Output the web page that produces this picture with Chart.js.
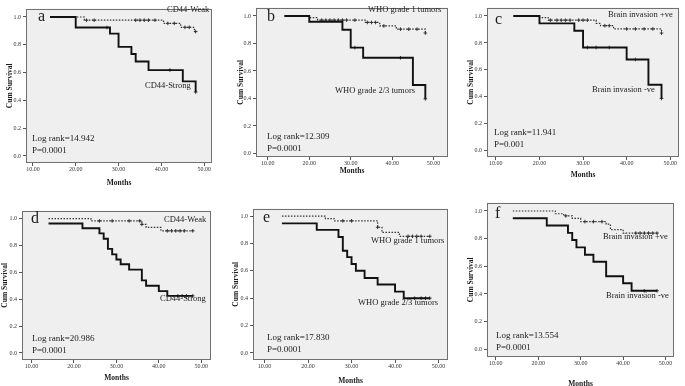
<!DOCTYPE html>
<html>
<head>
<meta charset="utf-8">
<script src="https://cdn.jsdelivr.net/npm/chart.js@4"></script>
<style>
  body { margin: 0; background: #fff; }
  #wrap { position: relative; width: 685px; height: 386px; overflow: hidden; background: #fff; }
  #wrap canvas { position: absolute; }
</style>
</head>
<body>
<div id="wrap"></div>
<script>
// axis ticks
const monthTicks = [10, 20, 30, 40, 50];
const survTicks = [0, 0.2, 0.4, 0.6, 0.8, 1.0];

// text per panel
const panelLetters = ['a', 'b', 'c', 'd', 'e', 'f'];
const solidNames = ['CD44-Strong', 'WHO grade 2/3 tumors', 'Brain invasion -ve', 'CD44-Strong', 'WHO grade 2/3 tumors', 'Brain invasion -ve'];
const dottedNames = ['CD44-Weak', 'WHO grade 1 tumors', 'Brain invasion +ve', 'CD44-Weak', 'WHO grade 1 tumors', 'Brain invasion +ve'];
const logRanks = ['14.942', '12.309', '11.941', '20.986', '17.830', '13.554'];
const pValues = ['0.0001', '0.0001', '0.001', '0.0001', '0.0001', '0.0001'];

// curves: [month, cumulative survival] at each step, censored cases separately
const aSolid = [[14, 1], [20, 0.924], [28, 0.88], [30, 0.785], [33, 0.734], [34, 0.68], [37, 0.618], [45, 0.537], [48, 0.46]];
const aSolidCens = [[27.3, 0.924], [42, 0.618], [48, 0.46]];
const aDotted = [[14, 1], [22, 0.977], [40.5, 0.954], [44.5, 0.926], [47.7, 0.895], [48, 0.895]];
const aDottedCens = [[22.5, 0.977], [24.3, 0.977], [34, 0.977], [35, 0.977], [36, 0.977], [37, 0.977], [38.5, 0.977], [41.5, 0.954], [43, 0.954], [45.5, 0.926], [46.5, 0.926], [48, 0.895]];

const bSolid = [[14, 1], [20, 0.958], [28, 0.9], [30, 0.77], [33, 0.696], [45, 0.498], [48, 0.397]];
const bSolidCens = [[31, 0.77], [42, 0.696], [48, 0.397]];
const bDotted = [[14, 1], [20, 0.988], [22, 0.97], [33.5, 0.953], [37, 0.928], [41, 0.904], [48, 0.876]];
const bDottedCens = [[23, 0.97], [24, 0.97], [25, 0.97], [26, 0.97], [27, 0.97], [28, 0.97], [29, 0.97], [31, 0.97], [34, 0.953], [35, 0.953], [36, 0.953], [38, 0.928], [42, 0.904], [44, 0.904], [46, 0.904], [48, 0.876]];

const cSolid = [[14, 1], [20, 0.945], [28, 0.89], [30, 0.766], [40, 0.677], [45, 0.49], [48, 0.388]];
const cSolidCens = [[31, 0.766], [33, 0.766], [36, 0.766], [42, 0.677], [48, 0.388]];
const cDotted = [[14, 1], [20, 0.988], [22, 0.969], [33, 0.945], [34, 0.928], [37, 0.904], [48, 0.873]];
const cDottedCens = [[22.5, 0.969], [24, 0.969], [25, 0.969], [26, 0.969], [27, 0.969], [29, 0.969], [30, 0.969], [31, 0.969], [35, 0.928], [36, 0.928], [40, 0.904], [42, 0.904], [44, 0.904], [46, 0.904], [48, 0.873]];

const dSolid = [[14, 0.964], [22, 0.928], [26, 0.89], [27, 0.85], [28, 0.775], [29, 0.734], [30, 0.696], [31, 0.66], [33, 0.62], [36, 0.54], [37, 0.5], [40, 0.46], [42, 0.425], [48, 0.425]];
const dSolidCens = [[44.5, 0.425], [45.5, 0.425], [46.5, 0.425], [48, 0.425]];
const dDotted = [[14, 1], [24, 0.983], [36, 0.957], [37, 0.935], [40.5, 0.909], [48, 0.909]];
const dDottedCens = [[26, 0.983], [29, 0.983], [33, 0.983], [35.5, 0.983], [36, 0.957], [42, 0.909], [43, 0.909], [44, 0.909], [45, 0.909], [46, 0.909], [48, 0.909]];

const eSolid = [[14, 0.946], [22, 0.899], [27, 0.847], [28, 0.746], [29, 0.7], [30, 0.65], [31, 0.6], [33, 0.547], [36, 0.5], [40, 0.448], [42, 0.4], [48, 0.4]];
const eSolidCens = [[44.5, 0.4], [46, 0.4], [47, 0.4], [48, 0.4]];
const eDotted = [[14, 1], [24, 0.981], [26, 0.965], [36, 0.918], [37, 0.88], [41, 0.852], [48, 0.852]];
const eDottedCens = [[28, 0.965], [30, 0.965], [36, 0.918], [43, 0.852], [44, 0.852], [45, 0.852], [46, 0.852], [48, 0.852]];

const fSolid = [[14, 0.947], [22, 0.895], [27, 0.842], [28, 0.79], [29, 0.737], [31, 0.684], [33, 0.633], [36, 0.528], [40, 0.477], [42, 0.423], [48, 0.423]];
const fSolidCens = [[45, 0.423], [48, 0.423]];
const fDotted = [[14, 1], [24, 0.98], [26, 0.965], [28, 0.947], [30, 0.923], [36, 0.905], [37, 0.865], [40, 0.84], [48, 0.84]];
const fDottedCens = [[26.5, 0.965], [31, 0.923], [33, 0.923], [35, 0.923], [43, 0.84], [44, 0.84], [45, 0.84], [46, 0.84], [47, 0.84], [48, 0.84]];

const curves = [
  [aSolid, aSolidCens, aDotted, aDottedCens],
  [bSolid, bSolidCens, bDotted, bDottedCens],
  [cSolid, cSolidCens, cDotted, cDottedCens],
  [dSolid, dSolidCens, dDotted, dDottedCens],
  [eSolid, eSolidCens, eDotted, eDottedCens],
  [fSolid, fSolidCens, fDotted, fDottedCens]
];

// page layout of each panel (pixels)
const layout = [
  { frame: [26, 3, 215, 163], x10: 33, x50: 207, y1: 11.7, y0: 155.7, left: 0, bottom: 190, ytp: 5.5, xpb: 2.5,
    letter: [38, 17], dotted: [167, 10], solid: [145, 86], stats: [32, 139] },
  { frame: [256, 2, 451, 157], x10: 268, x50: 436.3, y1: 10.7, y0: 153.3, left: 232, bottom: 180, ytp: 4.5, xpb: 4.5,
    letter: [267, 17], dotted: [368, 10], solid: [335, 91], stats: [267, 137] },
  { frame: [487, 2, 682, 157], x10: 496, x50: 673, y1: 10.7, y0: 150.5, left: 458, bottom: 184, ytp: 8.2, xpb: 4.5,
    letter: [495, 20], dotted: [608, 15], solid: [592, 90], stats: [494, 133] },
  { frame: [22, 205, 214, 360], x10: 31.7, x50: 204, y1: 213.3, y0: 352.7, left: 0, bottom: 386, ytp: 0.5, xpb: 3.5,
    letter: [31, 219], dotted: [164, 220], solid: [160, 299], stats: [32, 339] },
  { frame: [253, 203, 451, 360], x10: 264.7, x50: 441.3, y1: 210.7, y0: 352.7, left: 230, bottom: 390, ytp: 1.8, xpb: 4.5,
    letter: [263, 218], dotted: [371, 241], solid: [358, 303], stats: [267, 338] },
  { frame: [487, 197, 677, 357], x10: 496, x50: 668.3, y1: 205.7, y0: 349, left: 458, bottom: 392, ytp: 8.2, xpb: 3.5,
    letter: [495, 214], dotted: [603, 237], solid: [606, 296], stats: [496, 336] }
];

const serif = '"Liberation Serif", "Times New Roman", serif';
const toXY = pts => pts.map(([x, y]) => ({ x, y }));

function makePanel(i) {
  const p = layout[i];
  const [fx0, fy0, fx1, fy1] = p.frame;
  const w = fx1 - p.left + 2;
  const h = p.bottom - fy0;
  const padL = fx0 - p.left;
  const padB = p.bottom - fy1;

  const canvas = document.createElement('canvas');
  canvas.width = w;
  canvas.height = h;
  canvas.style.left = p.left + 'px';
  canvas.style.top = fy0 + 'px';
  document.getElementById('wrap').appendChild(canvas);

  const ppm = (p.x50 - p.x10) / 40;
  const xmin = 10 - (p.x10 - fx0) / ppm;
  const xmax = 50 + (fx1 - p.x50) / ppm;
  const ppu = p.y0 - p.y1;
  const ymax = 1 + (p.y1 - fy0) / ppu;
  const ymin = -(fy1 - p.y0) / ppu;

  const texts = [
    { t: panelLetters[i], x: p.letter[0], y: p.letter[1], size: 16 },
    { t: dottedNames[i], x: p.dotted[0], y: p.dotted[1], size: 8.5 },
    { t: solidNames[i], x: p.solid[0], y: p.solid[1], size: 8.5 },
    { t: 'Log rank=' + logRanks[i], x: p.stats[0], y: p.stats[1], size: 9 },
    { t: 'P=' + pValues[i], x: p.stats[0], y: p.stats[1] + 12, size: 9 }
  ];

  const panelPlugin = {
    id: 'panel' + i,
    beforeDraw(chart) {
      const { ctx, chartArea: a } = chart;
      ctx.save();
      ctx.fillStyle = '#efefef';
      ctx.fillRect(a.left, a.top, a.right - a.left, a.bottom - a.top);
      ctx.restore();
    },
    afterDraw(chart) {
      const { ctx, chartArea: a } = chart;
      ctx.save();
      ctx.strokeStyle = '#707070';
      ctx.lineWidth = 1;
      ctx.strokeRect(Math.round(a.left) + 0.5, Math.round(a.top) + 0.5,
        Math.round(a.right - a.left) - 1, Math.round(a.bottom - a.top) - 1);
      ctx.fillStyle = '#1c1c1c';
      ctx.textAlign = 'left';
      ctx.textBaseline = 'middle';
      texts.forEach(tx => {
        ctx.font = tx.size + 'px ' + serif;
        ctx.fillText(tx.t, tx.x - p.left, tx.y - fy0);
      });
      ctx.restore();
    }
  };

  const [solid, solidCens, dotted, dottedCens] = curves[i];
  const censStyle = { type: 'line', showLine: false, pointStyle: 'cross', pointRadius: 1.8,
    borderColor: '#222', borderWidth: 0.9, pointBorderWidth: 0.9 };

  new Chart(canvas, {
    type: 'line',
    data: {
      datasets: [
        { data: toXY(solid), borderColor: '#111', borderWidth: 1.9, stepped: 'before', pointRadius: 0, fill: false },
        Object.assign({ data: toXY(solidCens) }, censStyle),
        { data: toXY(dotted), borderColor: '#333', borderWidth: 1.2, borderDash: [1.5, 1.5], stepped: 'before', pointRadius: 0, fill: false },
        Object.assign({ data: toXY(dottedCens) }, censStyle)
      ]
    },
    options: {
      responsive: false,
      animation: false,
      devicePixelRatio: 1,
      layout: { padding: { left: 0, right: 2, top: 0, bottom: 0 } },
      plugins: { legend: { display: false }, tooltip: { enabled: false } },
      scales: {
        x: {
          type: 'linear', min: xmin, max: xmax,
          afterBuildTicks: s => { s.ticks = monthTicks.map(v => ({ value: v })); },
          afterFit: s => { s.height = padB; },
          border: { display: false },
          grid: { drawOnChartArea: false, drawTicks: true, tickLength: 3, color: '#555' },
          ticks: { autoSkip: false, maxRotation: 0, padding: 0, color: '#333',
            font: { family: serif, size: 6 }, callback: v => v.toFixed(2) },
          title: { display: true, text: 'Months', color: '#1c1c1c',
            font: { family: serif, size: 7.5, weight: 'bold' }, padding: { top: 0, bottom: p.xpb } }
        },
        y: {
          type: 'linear', min: ymin, max: ymax,
          afterBuildTicks: s => { s.ticks = survTicks.map(v => ({ value: v })); },
          afterFit: s => { s.width = padL; },
          border: { display: false },
          grid: { drawOnChartArea: false, drawTicks: true, tickLength: 3, color: '#555' },
          ticks: { autoSkip: false, padding: 2, color: '#333',
            font: { family: serif, size: 6 }, callback: v => v.toFixed(1) },
          title: { display: true, text: 'Cum Survival', color: '#1c1c1c',
            font: { family: serif, size: 7.5, weight: 'bold' }, padding: { top: p.ytp, bottom: 0 } }
        }
      }
    },
    plugins: [panelPlugin]
  });
}

for (let i = 0; i < 6; i++) makePanel(i);
</script>
</body>
</html>
